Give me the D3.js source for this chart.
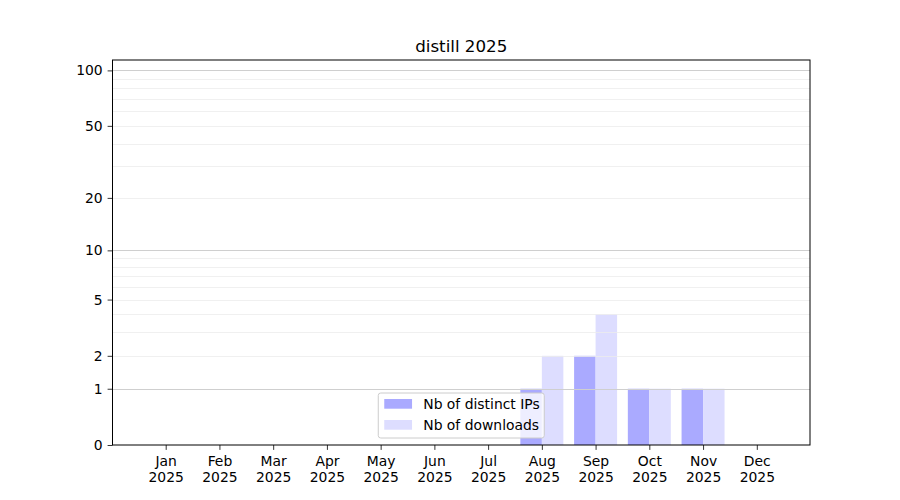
<!DOCTYPE html>
<html>
<head>
<meta charset="utf-8">
<script src="https://cdn.jsdelivr.net/npm/d3@7"></script>
<style>
  body { margin: 0; background: #fff; }
  text { font-family: "DejaVu Sans", sans-serif; }
</style>
</head>
<body>
<div id="chart"></div>
<script>
// chart data
var months = ["Jan", "Feb", "Mar", "Apr", "May", "Jun", "Jul", "Aug", "Sep", "Oct", "Nov", "Dec"];
var year = "2025";
var distinctIPs = [0, 0, 0, 0, 0, 0, 0, 1, 2, 1, 1, 0];
var downloads = [0, 0, 0, 0, 0, 0, 0, 2, 4, 1, 1, 0];
var yTicks = [0, 1, 2, 5, 10, 20, 50, 100];
var majorGrid = [1, 10, 100];
var minorGrid = [2, 3, 4, 5, 6, 7, 8, 9, 20, 30, 40, 50, 60, 70, 80, 90];
var seriesNames = ["Nb of distinct IPs", "Nb of downloads"];
var title = "distill 2025";

var config = {
    width: 900,
    height: 500,
    margin: { left: 112.5, right: 90, top: 60, bottom: 55 },
    colors: { ips: "#aaaaff", downloads: "#ddddff", major: "#cfcfcf", minor: "#ececec" },
    barWidth: 0.4
};

var svg = d3.select("#chart").append("svg")
    .attr("width", config.width)
    .attr("height", config.height);

var plotW = config.width - config.margin.left - config.margin.right;
var plotH = config.height - config.margin.top - config.margin.bottom;

var g = svg.append("g")
    .attr("transform", "translate(" + config.margin.left + "," + config.margin.top + ")");

// month index 1..12 on a linear axis, like matplotlib with 5% margins
var x = d3.scaleLinear().domain([0.01, 12.99]).range([0, plotW]);
// log(1 + v) style axis
var y = d3.scaleSymlog().constant(1).domain([0, 113.8]).range([plotH, 0]);

var monthIdx = months.map(function (m, i) { return i + 1; });

// bars
g.selectAll(".bar-ip").data(distinctIPs).enter().append("rect")
    .attr("x", function (d, i) { return x(monthIdx[i] - config.barWidth); })
    .attr("width", function (d, i) { return x(monthIdx[i]) - x(monthIdx[i] - config.barWidth); })
    .attr("y", function (d) { return y(d); })
    .attr("height", function (d) { return y(0) - y(d); })
    .attr("fill", config.colors.ips);

g.selectAll(".bar-dl").data(downloads).enter().append("rect")
    .attr("x", function (d, i) { return x(monthIdx[i]); })
    .attr("width", function (d, i) { return x(monthIdx[i] + config.barWidth) - x(monthIdx[i]); })
    .attr("y", function (d) { return y(d); })
    .attr("height", function (d) { return y(0) - y(d); })
    .attr("fill", config.colors.downloads);

// grid on top of the bars
g.selectAll(".minor").data(minorGrid).enter().append("line")
    .attr("x1", 0).attr("x2", plotW)
    .attr("y1", function (d) { return Math.round(y(d)) + 0.5; })
    .attr("y2", function (d) { return Math.round(y(d)) + 0.5; })
    .attr("stroke", config.colors.minor)
    .attr("stroke-width", 0.8);

g.selectAll(".major").data(majorGrid).enter().append("line")
    .attr("x1", 0).attr("x2", plotW)
    .attr("y1", function (d) { return Math.round(y(d)) + 0.5; })
    .attr("y2", function (d) { return Math.round(y(d)) + 0.5; })
    .attr("stroke", config.colors.major)
    .attr("stroke-width", 1);

// axes
var yAxis = d3.axisLeft(y).tickValues(yTicks).tickFormat(d3.format("d"))
    .tickSizeInner(4.9).tickSizeOuter(0).tickPadding(4.9);
var yg = g.append("g").call(yAxis);

var xAxis = d3.axisBottom(x).tickValues(monthIdx).tickFormat(function () { return ""; })
    .tickSizeInner(4.9).tickSizeOuter(0);
var xg = g.append("g").attr("transform", "translate(0," + plotH + ")").call(xAxis);

[yg, xg].forEach(function (a) {
    a.select(".domain").remove();
    a.selectAll(".tick line").attr("stroke", "#000").attr("stroke-width", 0.8);
    a.selectAll("text").attr("font-size", 13.9).attr("fill", "#000")
        .style("font-family", "DejaVu Sans, sans-serif");
});

xg.selectAll(".tick").each(function (d, i) {
    var t = d3.select(this).select("text").attr("y", 0).attr("dy", null);
    t.append("tspan").attr("x", 0).attr("y", 21).text(months[i]);
    t.append("tspan").attr("x", 0).attr("y", 37).text(year);
});

// plot frame
g.append("rect")
    .attr("x", 0).attr("y", 0)
    .attr("width", plotW).attr("height", plotH)
    .attr("fill", "none")
    .attr("stroke", "#000")
    .attr("stroke-width", 1);

// title
svg.append("text")
    .attr("x", config.margin.left + plotW / 2)
    .attr("y", 52)
    .attr("text-anchor", "middle")
    .attr("font-size", 16.7)
    .text(title);

// legend, lower center
var legW = 166, legH = 45;
var leg = g.append("g")
    .attr("transform", "translate(" + (plotW / 2 - legW / 2) + "," + (plotH - 7 - legH) + ")");
leg.append("rect")
    .attr("width", legW).attr("height", legH)
    .attr("rx", 2.5)
    .attr("fill", "#fff").attr("fill-opacity", 0.8)
    .attr("stroke", "#cccccc").attr("stroke-width", 1);

var legColors = [config.colors.ips, config.colors.downloads];
seriesNames.forEach(function (name, i) {
    leg.append("rect")
        .attr("x", 6).attr("y", 6 + i * 21)
        .attr("width", 27.8).attr("height", 9.7)
        .attr("fill", legColors[i]);
    leg.append("text")
        .attr("x", 45).attr("y", 11 + i * 21)
        .attr("dy", "0.35em")
        .attr("font-size", 13.9)
        .text(name);
});
</script>
</body>
</html>
